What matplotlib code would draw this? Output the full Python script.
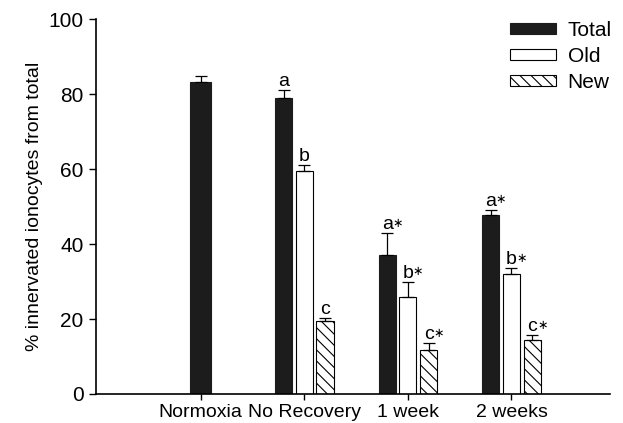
import matplotlib
matplotlib.use("Agg")
import matplotlib.pyplot as plt
import matplotlib.patches as mpatches
import numpy as np

plt.rcParams['font.family'] = ['Liberation Sans', 'DejaVu Sans']
plt.rcParams['hatch.linewidth'] = 0.8

groups = ['Normoxia', 'No Recovery', '1 week', '2 weeks']

# Normoxia only has a Total bar
total = [83.3, 79.1, 37.2, 47.8]
total_err = [1.6, 1.9, 5.7, 1.4]
total_lbl = ['', 'a', 'a', 'a']
total_star = [False, False, True, True]

old_x = [1, 2, 3]
old = [59.6, 25.9, 32.1]
old_err = [1.6, 4.1, 1.5]
old_lbl = ['b', 'b', 'b']
old_star = [False, True, True]

new_x = [1, 2, 3]
new = [19.5, 11.8, 14.4]
new_err = [0.9, 1.7, 1.3]
new_lbl = ['c', 'c', 'c']
new_star = [False, True, True]

fig = plt.figure(figsize=(6.23, 4.23), dpi=100)
ax = fig.add_axes([0.154, 0.0686, 0.825, 0.886])

off = 0.2
w = 0.165
dark = '#1c1c1c'

# total bars: Normoxia sits on its tick, others shifted left
tx = [0] + [g - off for g in old_x]
tw = [0.205] + [w] * 3
ax.bar(tx, total, width=tw, color=dark, edgecolor=dark, linewidth=0.8)
ax.bar(old_x, old, width=w, color='white', edgecolor='black', linewidth=0.8)
nx = [g + off for g in new_x]
ax.bar(nx, new, width=w, color='white', edgecolor='black', linewidth=0.8, hatch='\\\\\\')

ekw = dict(fmt='none', ecolor='black', elinewidth=0.9, capsize=4, capthick=0.9)
ax.errorbar(tx, total, yerr=[np.zeros(4), total_err], **ekw)
ax.errorbar(old_x, old, yerr=[np.zeros(3), old_err], **ekw)
ax.errorbar(nx, new, yerr=[np.zeros(3), new_err], **ekw)


def add_labels(xs, ys, errs, lbls, stars):
    for x, y, e, s, st in zip(xs, ys, errs, lbls, stars):
        if not s:
            continue
        ax.annotate(s, (x, y + e), xytext=(0, 0), textcoords='offset points',
                    ha='center', va='bottom', fontsize=14)
        if st:
            ax.annotate('\u2217', (x, y + e), xytext=(3.5, 2.5), textcoords='offset points',
                        ha='left', va='bottom', fontsize=9, family=['DejaVu Sans'])


add_labels(tx, total, total_err, total_lbl, total_star)
add_labels(old_x, old, old_err, old_lbl, old_star)
add_labels(nx, new, new_err, new_lbl, new_star)

ax.set_xlim(-1.01, 3.95)
ax.set_ylim(0, 100)
ax.set_yticks([0, 20, 40, 60, 80, 100])
ax.set_xticks(range(len(groups)))
ax.set_xticklabels(groups)
ax.tick_params(axis='both', direction='out', width=1)
ax.tick_params(axis='y', length=5, labelsize=15, pad=4)
ax.tick_params(axis='x', length=4, pad=3, labelsize=14)
ax.spines['top'].set_visible(False)
ax.spines['right'].set_visible(False)
ax.spines['left'].set_linewidth(1.2)
ax.spines['bottom'].set_linewidth(1.2)
ax.set_ylabel('% innervated ionocytes from total', fontsize=14)

handles = [
    mpatches.Patch(facecolor=dark, edgecolor=dark, linewidth=0.8),
    mpatches.Patch(facecolor='white', edgecolor='black', linewidth=0.8),
    mpatches.Patch(facecolor='white', edgecolor='black', linewidth=0.8, hatch='\\\\\\'),
]
ax.legend(handles, ['Total', 'Old', 'New'], loc='upper right', frameon=False,
          fontsize=15, handlelength=2.2, handleheight=0.45, handletextpad=0.55,
          labelspacing=0.33, bbox_to_anchor=(1.04, 1.045))

fig.savefig('out.png', dpi=100)
